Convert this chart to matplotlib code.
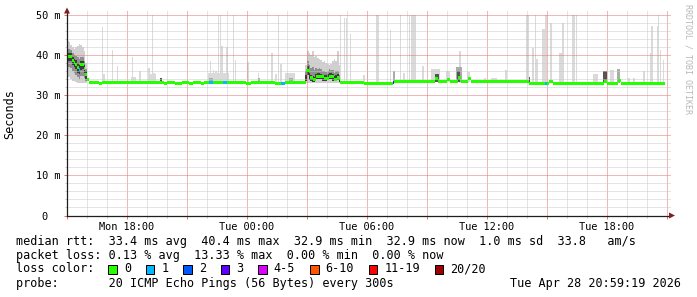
import matplotlib
matplotlib.use('Agg')
import matplotlib.pyplot as plt
from matplotlib.patches import Polygon, Rectangle
from matplotlib.ticker import MultipleLocator, FixedLocator, FuncFormatter

MONO = 'DejaVu Sans Mono'
plt.rcParams['font.family'] = [MONO]

STEP = 5 / 60  # one sample = 5 minutes; time axis = hours since Mon 15:00

# ---------------- axis labels ----------------
x_tick_hours = [3, 9, 15, 21, 27]
x_tick_labels = ['Mon 18:00', 'Tue 00:00', 'Tue 06:00', 'Tue 12:00', 'Tue 18:00']
y_tick_values = [0, 10, 20, 30, 40, 50]
y_tick_labels = ['0  ', '10 m', '20 m', '30 m', '40 m', '50 m']

# ---------------- median rtt (ms) ----------------
med_start = [0.00, 0.25, 0.33, 0.42, 0.50, 0.58, 0.67, 0.75, 0.83, 0.92, 1.00, 1.08,
             1.60, 1.77, 4.85, 5.00, 5.40, 5.75, 6.10, 6.28, 6.70, 6.87, 7.12, 7.28,
             7.82, 7.98, 8.95, 9.20, 10.40, 10.72, 10.88, 11.97, 12.13, 12.30, 12.47,
             12.83, 13.08, 13.33, 13.50, 13.63, 14.85, 16.28, 16.37, 18.40, 18.57,
             19.00, 19.15, 19.55, 19.72, 20.05, 20.20, 23.12, 23.90, 24.00, 24.12,
             24.30, 26.85, 27.00, 27.55, 27.70]
med_value = [39.7, 38.6, 38.0, 37.6, 36.9, 36.4, 37.5, 37.6, 36.6, 35.1, 33.9, 33.2,
             32.9, 33.2, 32.9, 33.2, 32.9, 33.2, 32.9, 33.2, 32.9, 33.2, 33.2, 33.2,
             33.2, 33.2, 32.9, 33.2, 32.9, 33.0, 33.2, 36.2, 34.4, 33.8, 34.6,
             34.2, 34.7, 33.9, 34.4, 33.1, 32.9, 33.2, 33.4, 34.2, 33.4,
             33.9, 33.4, 34.5, 33.4, 34.1, 33.4, 33.0, 33.0, 33.0, 33.3,
             33.0, 33.4, 33.0, 33.7, 33.0]
med_loss = [0, 0, 0, 0, 0, 1, 0, 0, 0, 0, 0, 0,
            0, 0, 0, 0, 0, 0, 0, 0, 0, 0, 1, 0,
            1, 0, 0, 0, 0, 1, 0, 0, 0, 0, 0,
            0, 0, 0, 0, 0, 0, 3, 0, 0, 0,
            0, 0, 0, 0, 0, 0, 0, 1, 0, 0,
            0, 0, 0, 0, 0]
med_end = 29.92

# ---------------- heavy smoke, Mon ~15:00-16:00 ----------------
smA_t   = [0.00, 0.08, 0.17, 0.25, 0.33, 0.42, 0.50, 0.58, 0.67, 0.75, 0.83, 0.92]
smA_lo  = [34.6, 34.4, 34.0, 33.6, 33.4, 33.2, 33.0, 32.9, 32.9, 32.9, 32.9, 32.9]
smA_mlo = [37.0, 37.0, 36.8, 36.0, 35.5, 35.0, 34.5, 34.0, 34.8, 34.8, 34.3, 33.5]
smA_dlo = [38.5, 38.5, 38.4, 37.5, 36.9, 36.5, 35.6, 35.2, 36.3, 36.5, 35.5, 34.0]
smA_dhi = [40.5, 40.5, 40.4, 39.5, 39.0, 38.7, 38.0, 37.5, 38.5, 38.6, 37.6, 36.0]
smA_mhi = [41.5, 41.5, 41.3, 40.5, 40.0, 39.8, 39.5, 39.0, 39.6, 39.5, 38.5, 36.5]
smA_hi  = [43.4, 43.2, 42.5, 42.1, 41.5, 42.0, 42.3, 42.7, 42.5, 41.9, 41.0, 38.0]

# ---------------- heavy smoke, Tue ~03:00-04:40 ----------------
smB_t   = [11.92, 12.00, 12.08, 12.17, 12.25, 12.33, 12.42, 12.50, 12.58, 12.67, 12.75,
           12.83, 12.92, 13.00, 13.08, 13.17, 13.25, 13.33, 13.42, 13.50, 13.58]
smB_lo  = [33.0, 33.0, 33.0, 33.0, 33.0, 33.0, 33.0, 33.0, 33.0, 33.0, 33.0,
           33.0, 33.0, 33.0, 33.0, 33.0, 33.0, 33.0, 33.0, 33.0, 33.0]
smB_dlo = [33.5, 35.0, 33.8, 33.4, 33.3, 33.3, 33.9, 33.9, 34.0, 33.9, 33.6,
           33.6, 33.6, 33.9, 34.0, 33.9, 33.6, 33.4, 33.5, 33.7, 33.3]
smB_dhi = [35.0, 37.2, 35.6, 35.0, 34.8, 34.5, 35.3, 35.4, 35.5, 35.3, 35.0,
           35.0, 34.9, 35.2, 35.5, 35.4, 35.2, 34.7, 35.0, 35.2, 34.3]
smB_mhi = [36.0, 38.5, 37.5, 36.8, 37.0, 36.2, 36.8, 36.5, 36.8, 36.4, 36.0,
           36.0, 35.8, 36.0, 36.5, 36.3, 36.2, 35.5, 36.0, 36.0, 35.0]
smB_hi  = [37.5, 41.0, 40.5, 40.0, 40.9, 39.5, 39.8, 39.2, 39.0, 38.8, 38.2,
           38.5, 38.0, 37.7, 37.5, 37.8, 38.5, 39.0, 38.5, 40.9, 37.5]

# ---------------- single-sample max-ping spikes (ms) ----------------
spike_hour = [1.77, 2.27, 2.52, 3.27, 3.65, 4.10, 4.27, 4.35,
              7.17, 7.32, 7.45, 7.58, 7.67, 7.75, 7.87, 8.00, 8.33, 8.42, 9.05, 9.57,
              10.25, 10.45, 10.57, 10.70,
              13.68, 13.88, 13.97, 14.18, 14.85, 15.02, 15.50, 15.58, 16.18, 16.68,
              16.85, 17.13, 17.22, 17.30, 17.40, 17.80,
              18.98, 19.65, 20.07, 20.90, 21.95, 23.00, 23.08, 23.30, 23.43, 23.50,
              23.80, 23.88, 23.95, 24.20,
              24.65, 24.72, 24.80, 25.30, 25.38, 25.47, 26.35, 26.45, 27.20, 27.28,
              28.10, 28.35, 28.83, 29.17, 29.25, 29.52, 29.58, 29.67, 29.83]
spike_top = [46.9, 41.3, 37.2, 39.6, 36.0, 36.7, 50.0, 35.4,
             38.5, 36.3, 36.0, 50.0, 50.0, 42.2, 35.3, 42.0, 50.0, 38.8, 38.3, 35.5,
             40.5, 35.3, 50.0, 37.7,
             50.0, 49.2, 49.2, 45.2, 35.0, 38.4, 50.0, 50.0, 46.3, 50.0,
             35.5, 50.0, 50.0, 50.0, 50.0, 37.3,
             36.0, 40.9, 35.8, 34.3, 36.3, 50.0, 50.0, 41.7, 50.0, 39.0,
             46.4, 46.4, 50.0, 48.0,
             40.6, 40.6, 48.0, 50.0, 50.0, 50.0, 35.3, 35.3, 36.3, 36.3,
             34.3, 34.3, 36.0, 40.5, 47.1, 47.1, 50.0, 41.3, 38.8]

# ---------------- small smoke patches near the median ----------------
blip_start = [1.75, 3.20, 4.05, 4.65, 7.05, 7.10, 9.55, 10.90, 11.10, 16.28, 18.20, 18.40,
              18.95, 19.45, 19.50, 20.00, 21.20, 23.08, 24.60, 26.30, 26.80, 27.15, 27.50, 28.80]
blip_end   = [1.92, 3.45, 4.45, 4.73, 8.10, 7.30, 9.65, 11.40, 11.30, 16.38, 18.65, 18.60,
              19.15, 19.75, 19.65, 20.15, 21.50, 23.17, 24.85, 26.55, 27.00, 27.35, 27.65, 28.90]
blip_lo    = [33.0, 33.0, 33.0, 33.0, 33.0, 33.0, 33.0, 33.0, 33.0, 33.0, 33.2, 33.2,
              33.2, 33.2, 33.2, 33.2, 33.2, 33.0, 33.0, 33.0, 33.0, 33.0, 33.0, 33.0]
blip_hi    = [35.3, 34.5, 35.3, 34.3, 35.5, 34.3, 34.3, 35.5, 34.3, 36.0, 36.5, 35.2,
              36.0, 37.0, 36.0, 35.8, 34.3, 34.5, 34.5, 35.3, 36.0, 36.3, 36.5, 36.0]
blip_level = [1, 1, 1, 3, 1, 2, 2, 1, 2, 2, 1, 3,
              1, 2, 3, 1, 1, 3, 1, 1, 3, 1, 2, 1]

# ---------------- legend / statistics ----------------
loss_labels = ['0', '1', '2', '3', '4-5', '6-10', '11-19', '20/20']
loss_colors = ['#26ff00', '#00b8ff', '#0059ff', '#5e00ff', '#dd00ff', '#ff5500', '#ff0000', '#a10000']
rtt_stats = ['33.4 ms avg', '40.4 ms max', '32.9 ms min', '32.9 ms now', '1.0 ms sd', '33.8   am/s']
loss_stats = ['0.13 % avg', '13.33 % max', '0.00 % min', '0.00 % now']
probe_text = '20 ICMP Echo Pings (56 Bytes) every 300s'
stamp_text = 'Tue Apr 28 20:59:19 2026'


def loss_bin(n):
    if n <= 3:
        return n
    if n <= 5:
        return 4
    if n <= 10:
        return 5
    if n <= 19:
        return 6
    return 7


W, H = 697, 297
fig = plt.figure(figsize=(W / 100, H / 100), dpi=100)
fig.patch.set_facecolor('white')


def fx(x):
    return x / W


def fy(y):
    return 1 - y / H


ax = fig.add_axes([fx(67), fy(215.5), (671 - 67) / W, (215.5 - 10) / H])
ax.set_xlim(0, 30.2)
ax.set_ylim(0, 51.2)
ax.set_facecolor('white')

shade = {1: '#dadada', 2: '#ababab', 3: '#555555'}

# spikes
ax.bar(spike_hour, [t - 33.0 for t in spike_top], bottom=33.0, width=STEP,
       align='center', color=shade[1], linewidth=0, zorder=2)

# blips
ax.bar(blip_start, [h - l for h, l in zip(blip_hi, blip_lo)], bottom=blip_lo,
       width=[e - s for s, e in zip(blip_start, blip_end)], align='edge',
       color=[shade[k] for k in blip_level], linewidth=0, zorder=2)


def smoke(t, lo, mlo, dlo, dhi, mhi, hi):
    ax.bar(t, [b - a for a, b in zip(lo, hi)], bottom=lo, width=STEP, align='edge',
           color='#d0d0d0', linewidth=0, zorder=2)
    ax.bar(t, [b - a for a, b in zip(mlo, mhi)], bottom=mlo, width=STEP, align='edge',
           color='#8f8f8f', linewidth=0, zorder=2)
    ax.bar(t, [b - a for a, b in zip(dlo, dhi)], bottom=dlo, width=STEP, align='edge',
           color='#3c3c3c', linewidth=0, zorder=2)


smoke(smA_t, smA_lo, smA_mlo, smA_dlo, smA_dhi, smA_mhi, smA_hi)
smoke(smB_t, smB_lo, smB_dlo, smB_dlo, smB_dhi, smB_mhi, smB_hi)

# median line
ends = med_start[1:] + [med_end]
ax.bar(med_start, 0.75, bottom=[v - 0.375 for v in med_value],
       width=[e - s for s, e in zip(med_start, ends)], align='edge',
       color=[loss_colors[loss_bin(n)] for n in med_loss], linewidth=0, zorder=3)

# grid (rrdtool style: fine 1 on / 1 off dots)
ax.yaxis.set_major_locator(FixedLocator(y_tick_values))
ax.yaxis.set_minor_locator(MultipleLocator(2))
ax.xaxis.set_major_locator(MultipleLocator(3))
ax.xaxis.set_minor_locator(MultipleLocator(1))
ax.set_axisbelow(False)
MAJ = '#e27474'
MIN = '#cacaca'
ax.grid(which='major', color=MAJ, linewidth=0.72, linestyle=(0, (1, 1)), zorder=4, snap=True)
ax.grid(which='minor', color=MIN, linewidth=0.72, linestyle=(0, (1, 1)), zorder=4, snap=True)

ax.yaxis.set_major_formatter(FuncFormatter(lambda v, p: dict(zip(y_tick_values, y_tick_labels)).get(int(round(v)), '')))
ax.xaxis.set_major_formatter(FuncFormatter(lambda v, p: dict(zip(x_tick_hours, x_tick_labels)).get(int(round(v)), '')))
ax.tick_params(which='major', length=2.2, width=0.72, color=MAJ, pad=2.6, labelsize=7.4,
               labelcolor='black')
ax.tick_params(which='minor', length=1.5, width=0.72, color=MIN)
for lab in ax.get_xticklabels() + ax.get_yticklabels():
    lab.set_family(MONO)

for s in ['top', 'right']:
    ax.spines[s].set_visible(False)
for s in ['left', 'bottom']:
    ax.spines[s].set_color('#1f1f1f')
    ax.spines[s].set_linewidth(0.9)
    ax.spines[s].set_zorder(5)

# arrows
arrow_col = '#801f1f'
fig.add_artist(Polygon([(fx(64), fy(13.5)), (fx(70), fy(13.5)), (fx(67), fy(7.5))],
                       closed=True, transform=fig.transFigure, color=arrow_col, lw=0))
fig.add_artist(Polygon([(fx(669), fy(212.5)), (fx(669), fy(218.5)), (fx(675), fy(215.5))],
                       closed=True, transform=fig.transFigure, color=arrow_col, lw=0))

# y label and watermark
fig.text(fx(10), fy(114), 'Seconds', rotation=90, ha='center', va='center', fontsize=8.5, family=MONO)
fig.text(fx(688), fy(59), 'RRDTOOL / TOBI OETIKER', rotation=270, ha='center', va='center',
         fontsize=6.0, family=MONO, color='#b8b8b8')

# legend lines
CW = 7.1
x0 = 16
fs = 8.5
fig.text(fx(x0), fy(241), 'median rtt:  ' + '  '.join(rtt_stats), fontsize=fs, family=MONO,
         ha='left', va='center')
fig.text(fx(x0), fy(255), 'packet loss: ' + '  '.join(loss_stats), fontsize=fs, family=MONO,
         ha='left', va='center')
fig.text(fx(x0), fy(269), 'loss color:', fontsize=fs, family=MONO, ha='left', va='center')
bx = x0 + 13 * CW
for lab, col in zip(loss_labels, loss_colors):
    fig.add_artist(Rectangle((fx(bx), fy(273.5)), 8.5 / W, 8.5 / H, transform=fig.transFigure,
                             facecolor=col, edgecolor='black', linewidth=0.72))
    fig.text(fx(bx + 15.5), fy(269), lab, fontsize=fs, family=MONO, ha='left', va='center')
    bx += 30.4 + CW * len(lab)
fig.text(fx(x0), fy(283.5), 'probe:       ' + probe_text, fontsize=fs, family=MONO,
         ha='left', va='center')
fig.text(fx(681), fy(283.5), stamp_text, fontsize=fs, family=MONO, ha='right', va='center')

fig.savefig('out.png', dpi=100, facecolor='white')
